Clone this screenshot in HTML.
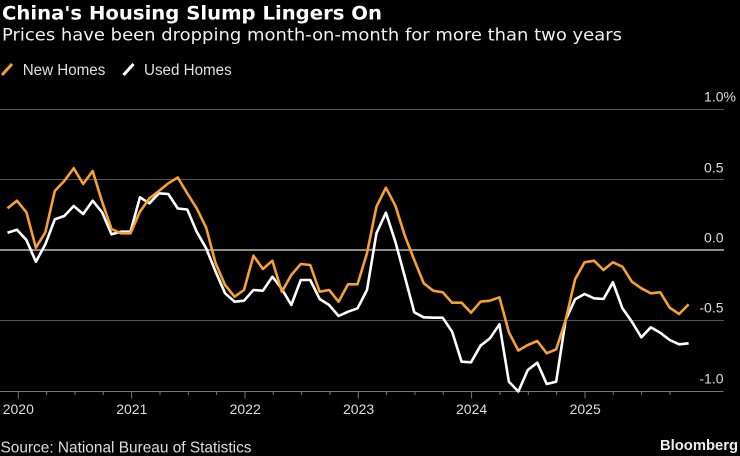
<!DOCTYPE html>
<html>
<head>
<meta charset="utf-8">
<style>
  html, body { margin: 0; padding: 0; background: #000; }
  body { width: 740px; height: 456px; overflow: hidden; }
  svg { display: block; }
  .t { font-family: "DejaVu Sans", "Liberation Sans", sans-serif; }
  .l { font-family: "Liberation Sans", "DejaVu Sans", sans-serif; }
</style>
</head>
<body>
<svg width="740" height="456" viewBox="0 0 740 456" xmlns="http://www.w3.org/2000/svg">
  <rect x="0" y="0" width="740" height="456" fill="#000"/>

  <!-- Title & subtitle -->
  <text class="t" x="2" y="19.5" font-size="18.5" font-weight="bold" fill="#ffffff" textLength="380" lengthAdjust="spacingAndGlyphs">China's Housing Slump Lingers On</text>
  <text class="t" x="2" y="40.7" font-size="17" fill="#f0f0f0" textLength="620" lengthAdjust="spacingAndGlyphs">Prices have been dropping month-on-month for more than two years</text>

  <!-- Legend -->
  <line x1="2" y1="75" x2="12" y2="64" stroke="#f5a031" stroke-width="3"/>
  <text class="l" x="22.7" y="75" font-size="15.5" fill="#e0e0e0" textLength="82.6" lengthAdjust="spacingAndGlyphs">New Homes</text>
  <line x1="123.5" y1="75" x2="133.5" y2="64" stroke="#ffffff" stroke-width="3"/>
  <text class="l" x="144" y="75" font-size="15.5" fill="#e0e0e0" textLength="87.7" lengthAdjust="spacingAndGlyphs">Used Homes</text>

  <!-- Gridlines -->
  <line x1="0" y1="109.5" x2="724" y2="109.5" stroke="#555" stroke-width="1"/>
  <line x1="0" y1="179.5" x2="724" y2="179.5" stroke="#555" stroke-width="1"/>
  <line x1="0" y1="250" x2="724" y2="250" stroke="#bbb" stroke-width="1.5"/>
  <line x1="0" y1="320.5" x2="724" y2="320.5" stroke="#555" stroke-width="1"/>
  <line x1="0" y1="391.5" x2="723.5" y2="391.5" stroke="#777" stroke-width="1"/>

  <!-- Y labels -->
  <g class="l" font-size="14" fill="#dddddd">
    <text x="723.5" y="101.5" text-anchor="end">1.0</text>
    <text x="723.5" y="101.5">%</text>
    <text x="723.5" y="172.3" text-anchor="end">0.5</text>
    <text x="723.5" y="242.4" text-anchor="end">0.0</text>
    <text x="723.5" y="312.5" text-anchor="end">-0.5</text>
    <text x="723.5" y="383.4" text-anchor="end">-1.0</text>
  </g>

  <!-- X ticks -->
  <g stroke="#777" stroke-width="1">
    <line x1="18.3" y1="391" x2="18.3" y2="398.5"/>
    <line x1="46.6" y1="391" x2="46.6" y2="395"/>
    <line x1="75" y1="391" x2="75" y2="395"/>
    <line x1="103.3" y1="391" x2="103.3" y2="395"/>
    <line x1="131.6" y1="391" x2="131.6" y2="398.5"/>
    <line x1="160" y1="391" x2="160" y2="395"/>
    <line x1="188.3" y1="391" x2="188.3" y2="395"/>
    <line x1="216.6" y1="391" x2="216.6" y2="395"/>
    <line x1="245" y1="391" x2="245" y2="398.5"/>
    <line x1="273.3" y1="391" x2="273.3" y2="395"/>
    <line x1="301.6" y1="391" x2="301.6" y2="395"/>
    <line x1="330" y1="391" x2="330" y2="395"/>
    <line x1="358.3" y1="391" x2="358.3" y2="398.5"/>
    <line x1="386.6" y1="391" x2="386.6" y2="395"/>
    <line x1="415" y1="391" x2="415" y2="395"/>
    <line x1="443.3" y1="391" x2="443.3" y2="395"/>
    <line x1="471.6" y1="391" x2="471.6" y2="398.5"/>
    <line x1="500" y1="391" x2="500" y2="395"/>
    <line x1="528.3" y1="391" x2="528.3" y2="395"/>
    <line x1="556.6" y1="391" x2="556.6" y2="395"/>
    <line x1="585" y1="391" x2="585" y2="398.5"/>
    <line x1="613.3" y1="391" x2="613.3" y2="395"/>
    <line x1="641.6" y1="391" x2="641.6" y2="395"/>
    <line x1="670" y1="391" x2="670" y2="395"/>
  </g>

  <!-- X labels -->
  <g class="l" font-size="14" fill="#dddddd" text-anchor="middle">
    <text x="18.3" y="414">2020</text>
    <text x="131.8" y="414">2021</text>
    <text x="245.2" y="414">2022</text>
    <text x="358.6" y="414">2023</text>
    <text x="471.6" y="414">2024</text>
    <text x="585.2" y="414">2025</text>
  </g>

  <!-- Used Homes (white) -->
  <polyline fill="none" stroke="#ffffff" stroke-width="2.6" stroke-linejoin="round" points="7.5,232.7 16.96,229.7 26.42,240 35.88,261.7 45.34,244.3 54.8,219.3 64.26,216 73.72,206 83.18,214 92.64,200.7 102.1,212.3 111.56,234.3 121.02,231.7 130.48,231.7 139.94,197.3 149.4,203.3 158.86,193.3 168.32,194 177.78,208.5 187.24,209.5 196.7,231.7 206.16,248.3 215.62,271.7 225.08,293.3 234.54,301.7 244,300.7 253.46,290 262.92,290.7 272.38,276.7 281.84,289 291.3,305 300.76,280 310.22,280 319.68,299 329.14,305 338.6,316 348.06,311.7 357.52,308.3 366.98,290 376.44,233.3 385.9,212.7 395.36,241.7 404.82,276.7 414.28,312.3 423.74,317.3 433.2,317.7 442.66,317.7 452.12,331.7 461.58,361.7 471.04,362.3 480.5,345.7 489.96,338.3 499.42,324.3 508.88,381.7 518.34,391.5 527.8,370 537.26,362.7 546.72,384 556.18,381.7 565.64,320 575.1,299.3 584.56,294 594.02,298.3 603.48,299 612.94,282.3 622.4,308.3 631.86,321.7 641.32,337.3 650.78,327.3 660.24,332.7 669.7,340 679.16,344.3 688.62,343.3"/>

  <!-- New Homes (orange) -->
  <polyline fill="none" stroke="#f5a031" stroke-width="2.6" stroke-linejoin="round" points="7.5,208.3 16.96,200.7 26.42,212.3 35.88,247.7 45.34,232.3 54.8,191 64.26,181 73.72,168.3 83.18,184 92.64,171 102.1,201.7 111.56,229 121.02,233.3 130.48,233.3 139.94,211.7 149.4,198.3 158.86,191 168.32,183.3 177.78,177.5 187.24,193.3 196.7,208.3 206.16,227.7 215.62,263.3 225.08,285 234.54,296.7 244,290 253.46,255.7 262.92,269 272.38,260.7 281.84,291.7 291.3,275 300.76,264 310.22,265 319.68,291.7 329.14,290 338.6,301.7 348.06,284.3 357.52,284.3 366.98,253.3 376.44,206.7 385.9,187.7 395.36,205.7 404.82,235.7 414.28,260 423.74,283.3 433.2,290.7 442.66,292.3 452.12,302.7 461.58,302.7 471.04,312.7 480.5,301.7 489.96,300.7 499.42,297.3 508.88,332.3 518.34,350.5 527.8,345 537.26,341 546.72,353.3 556.18,349.3 565.64,320 575.1,279.3 584.56,262.3 594.02,260.7 603.48,270 612.94,262.3 622.4,266.7 631.86,281.7 641.32,288.3 650.78,293.3 660.24,292.3 669.7,307.7 679.16,314 688.62,304.3"/>

  <!-- Footer -->
  <text class="l" x="0.5" y="452.7" font-size="16" fill="#dddddd" textLength="251" lengthAdjust="spacingAndGlyphs">Source: National Bureau of Statistics</text>
  <text class="l" x="660" y="450" font-size="15" font-weight="bold" fill="#eeeeee" textLength="78" lengthAdjust="spacingAndGlyphs">Bloomberg</text>
</svg>
</body>
</html>
